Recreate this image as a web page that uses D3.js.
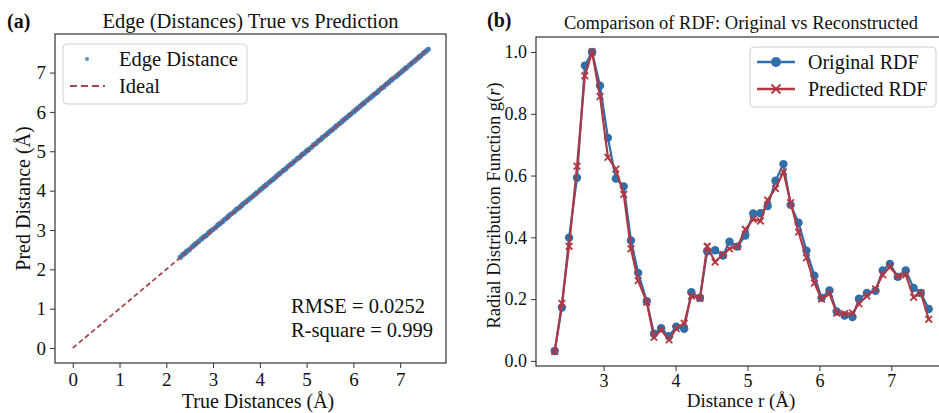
<!DOCTYPE html>
<html><head><meta charset="utf-8">
<script src="https://cdn.jsdelivr.net/npm/d3@7"></script>
<style>
body{margin:0;background:#fff;}
text{font-family:"Liberation Serif","Times New Roman",serif;fill:#111;}
.axis path,.axis line{stroke:#333;}
</style></head>
<body><svg id="c" width="939" height="413"></svg>
<script>
// ---- Panel (a) data ----
const trueDist = [2.30,2.35,2.40,2.44,2.49,2.55,2.60,2.64,2.69,2.75,2.80,2.85,2.90,2.94,2.99,3.05,3.10,3.14,3.20,3.25,3.30,3.34,3.39,3.45,3.50,3.55,3.60,3.64,3.70,3.75,3.80,3.85,3.90,3.94,4.00,4.05,4.10,4.14,4.20,4.25,4.30,4.35,4.40,4.44,4.50,4.55,4.60,4.65,4.70,4.74,4.80,4.85,4.90,4.95,5.00,5.04,5.10,5.15,5.20,5.25,5.30,5.34,5.40,5.45,5.50,5.55,5.60,5.64,5.70,5.75,5.80,5.85,5.90,5.94,6.00,6.05,6.10,6.15,6.20,6.24,6.30,6.35,6.40,6.45,6.50,6.54,6.60,6.65,6.70,6.75,6.80,6.84,6.90,6.95,7.00,7.05,7.10,7.14,7.20,7.25,7.30,7.35,7.40,7.44,7.50,7.55,7.60];
const predDist = [2.31,2.37,2.41,2.46,2.50,2.57,2.62,2.66,2.71,2.77,2.82,2.86,2.92,2.96,3.01,3.06,3.12,3.16,3.21,3.27,3.31,3.36,3.41,3.46,3.52,3.56,3.61,3.66,3.71,3.76,3.81,3.86,3.91,3.95,4.01,4.06,4.11,4.15,4.21,4.26,4.30,4.36,4.41,4.45,4.51,4.55,4.61,4.66,4.70,4.75,4.81,4.85,4.91,4.95,5.01,5.04,5.10,5.16,5.20,5.26,5.30,5.35,5.40,5.45,5.51,5.55,5.60,5.65,5.70,5.75,5.80,5.85,5.90,5.94,6.00,6.05,6.10,6.15,6.20,6.24,6.30,6.35,6.40,6.45,6.49,6.54,6.60,6.64,6.70,6.74,6.80,6.84,6.89,6.94,6.99,7.04,7.09,7.13,7.19,7.24,7.29,7.34,7.39,7.43,7.49,7.54,7.59];
const idealLine = [0, 7.6];
const ticksA = [0,1,2,3,4,5,6,7];
const statsText = ["RMSE = 0.0252", "R-square = 0.999"];

// ---- Panel (b) data ----
const rValues = [2.32,2.42,2.52,2.63,2.74,2.84,2.95,3.06,3.17,3.28,3.38,3.48,3.60,3.70,3.80,3.91,4.01,4.12,4.22,4.34,4.44,4.55,4.66,4.75,4.86,4.97,5.08,5.18,5.28,5.39,5.50,5.60,5.71,5.82,5.93,6.03,6.14,6.24,6.35,6.46,6.55,6.66,6.78,6.88,6.98,7.09,7.20,7.31,7.41,7.52];
const rdfOriginal = [0.032,0.173,0.399,0.593,0.956,1.0,0.891,0.722,0.590,0.565,0.390,0.285,0.193,0.088,0.106,0.080,0.111,0.104,0.222,0.204,0.355,0.358,0.341,0.386,0.370,0.406,0.477,0.478,0.501,0.583,0.637,0.505,0.447,0.357,0.276,0.204,0.228,0.160,0.147,0.142,0.201,0.220,0.227,0.293,0.314,0.272,0.293,0.236,0.220,0.168];
const rdfPredicted = [0.030,0.186,0.371,0.630,0.923,1.0,0.856,0.659,0.621,0.539,0.363,0.260,0.190,0.076,0.100,0.068,0.105,0.122,0.210,0.203,0.371,0.320,0.345,0.363,0.370,0.426,0.458,0.453,0.521,0.558,0.612,0.512,0.417,0.334,0.252,0.200,0.218,0.155,0.153,0.155,0.185,0.210,0.233,0.279,0.304,0.274,0.279,0.206,0.220,0.135];
const ticksBx = [3,4,5,6,7];
const ticksBy = [0.0,0.2,0.4,0.6,0.8,1.0];

const blue = "#2f6ea7", red = "#b03845", ideal = "#a3474d";
const svg = d3.select("#c");

// ===== Panel (a) =====
const ax = {l:55, r:446, t:34, b:363};
const xA = d3.scaleLinear().domain([-0.38, 7.98]).range([ax.l, ax.r]);
const yA = d3.scaleLinear().domain([-0.38, 7.98]).range([ax.b, ax.t]);
const gA = svg.append("g");
gA.append("g").attr("class","axis").attr("transform",`translate(0,${ax.b})`)
  .call(d3.axisBottom(xA).tickValues(ticksA).tickFormat(d3.format("d")).tickSize(5).tickPadding(5).tickSizeOuter(0))
  .call(g=>g.selectAll("text").style("font-size","19px").attr("fill","#111"));
gA.append("g").attr("class","axis").attr("transform",`translate(${ax.l},0)`)
  .call(d3.axisLeft(yA).tickValues(ticksA).tickFormat(d3.format("d")).tickSize(5).tickPadding(4).tickSizeOuter(0))
  .call(g=>g.selectAll("text").style("font-size","19px").attr("fill","#111"));
gA.selectAll(".axis path").remove();
gA.append("rect").attr("x",ax.l).attr("y",ax.t).attr("width",ax.r-ax.l).attr("height",ax.b-ax.t)
  .attr("fill","none").attr("stroke","#333").attr("stroke-width",1.2);
gA.append("g").selectAll("circle").data(trueDist.map((t,i)=>[t,predDist[i]])).join("circle")
  .attr("cx",d=>xA(d[0])).attr("cy",d=>yA(d[1])).attr("r",2.7).attr("fill","#3573b0").attr("opacity",0.9);
gA.append("line").attr("x1",xA(idealLine[0])).attr("y1",yA(idealLine[0])).attr("x2",xA(idealLine[1])).attr("y2",yA(idealLine[1]))
  .attr("stroke",ideal).attr("stroke-width",1.8).attr("stroke-dasharray","5,3");
// legend (a)
gA.append("rect").attr("x",63).attr("y",44).attr("width",184).attr("height",60).attr("rx",4)
  .attr("fill","#fff").attr("fill-opacity",0.85).attr("stroke","#d0d0d0");
gA.append("circle").attr("cx",87).attr("cy",59).attr("r",2).attr("fill","#5a93c7");
gA.append("text").attr("x",119).attr("y",65.5).style("font-size","20.5px").text("Edge Distance");
gA.append("line").attr("x1",70).attr("x2",105).attr("y1",86).attr("y2",86).attr("stroke",ideal).attr("stroke-width",2).attr("stroke-dasharray","7,4");
gA.append("text").attr("x",119).attr("y",93).style("font-size","20.5px").text("Ideal");
gA.selectAll("text.stat").data(statsText).join("text").attr("class","stat")
  .attr("x",291).attr("y",(d,i)=>313+i*24).style("font-size","20.5px").text(d=>d);
gA.append("text").attr("x",250.5).attr("y",28).attr("text-anchor","middle").style("font-size","20.5px").text("Edge (Distances) True vs Prediction");
gA.append("text").attr("x",7).attr("y",28).style("font-size","20px").style("font-weight","bold").text("(a)");
gA.append("text").attr("x",258).attr("y",408).attr("text-anchor","middle").style("font-size","20px").text("True Distances (Å)");
gA.append("text").attr("transform",`translate(30,${(ax.t+ax.b)/2}) rotate(-90)`).attr("text-anchor","middle").style("font-size","20px").text("Pred Distance (Å)");

// ===== Panel (b) =====
const bx = {l:536, r:946, t:37, b:366};
const xB = d3.scaleLinear().domain([2.06, 7.76]).range([bx.l, bx.r]);
const yB = d3.scaleLinear().domain([-0.0165, 1.0485]).range([bx.b, bx.t]);
const gB = svg.append("g");
gB.append("g").attr("class","axis").attr("transform",`translate(0,${bx.b})`)
  .call(d3.axisBottom(xB).tickValues(ticksBx).tickFormat(d3.format("d")).tickSize(5).tickPadding(3).tickSizeOuter(0))
  .call(g=>g.selectAll("text").style("font-size","18px").attr("fill","#111"));
gB.append("g").attr("class","axis").attr("transform",`translate(${bx.l},0)`)
  .call(d3.axisLeft(yB).tickValues(ticksBy).tickFormat(d3.format(".1f")).tickSize(5).tickPadding(4).tickSizeOuter(0))
  .call(g=>g.selectAll("text").style("font-size","18px").attr("fill","#111"));
gB.selectAll(".axis path").remove();
gB.append("rect").attr("x",bx.l).attr("y",bx.t).attr("width",bx.r-bx.l).attr("height",bx.b-bx.t)
  .attr("fill","none").attr("stroke","#333").attr("stroke-width",1.2);
const lineB = d3.line().x(d=>xB(d[0])).y(d=>yB(d[1]));
const orig = rValues.map((r,i)=>[r, rdfOriginal[i]]);
const pred = rValues.map((r,i)=>[r, rdfPredicted[i]]);
gB.append("path").datum(orig).attr("d",lineB).attr("fill","none").attr("stroke",blue).attr("stroke-width",2.2);
gB.append("g").selectAll("circle").data(orig).join("circle")
  .attr("cx",d=>xB(d[0])).attr("cy",d=>yB(d[1])).attr("r",4.2).attr("fill",blue);
gB.append("path").datum(pred).attr("d",lineB).attr("fill","none").attr("stroke",red).attr("stroke-width",2.2);
const xMark = (g, cx, cy, s) => g.append("path")
  .attr("d",`M${cx-s},${cy-s}L${cx+s},${cy+s}M${cx-s},${cy+s}L${cx+s},${cy-s}`)
  .attr("stroke",red).attr("stroke-width",1.8).attr("fill","none");
const xg = gB.append("g");
pred.forEach(d=>xMark(xg, xB(d[0]), yB(d[1]), 3.3));
// legend (b)
gB.append("rect").attr("x",750).attr("y",47).attr("width",186).attr("height",60).attr("rx",4)
  .attr("fill","#fff").attr("fill-opacity",0.85).attr("stroke","#d0d0d0");
gB.append("line").attr("x1",757).attr("x2",795).attr("y1",62).attr("y2",62).attr("stroke",blue).attr("stroke-width",2.5);
gB.append("circle").attr("cx",776).attr("cy",62).attr("r",5).attr("fill",blue);
gB.append("text").attr("x",808).attr("y",69).style("font-size","20px").text("Original RDF");
gB.append("line").attr("x1",757).attr("x2",795).attr("y1",89).attr("y2",89).attr("stroke",red).attr("stroke-width",2.5);
xMark(gB, 776, 89, 4.5);
gB.append("text").attr("x",808).attr("y",96).style("font-size","20px").text("Predicted RDF");
gB.append("text").attr("x",741).attr("y",29).attr("text-anchor","middle").style("font-size","18.5px").text("Comparison of RDF: Original vs Reconstructed");
gB.append("text").attr("x",487).attr("y",27).style("font-size","20px").style("font-weight","bold").text("(b)");
gB.append("text").attr("x",741).attr("y",407).attr("text-anchor","middle").style("font-size","19px").text("Distance r (Å)");
const yl = gB.append("text").attr("transform",`translate(500,${(bx.t+bx.b)/2+4}) rotate(-90)`).attr("text-anchor","middle").style("font-size","18.5px");
yl.append("tspan").text("Radial Distribution Function g(");
yl.append("tspan").style("font-style","italic").text("r");
yl.append("tspan").text(")");
</script></body></html>
